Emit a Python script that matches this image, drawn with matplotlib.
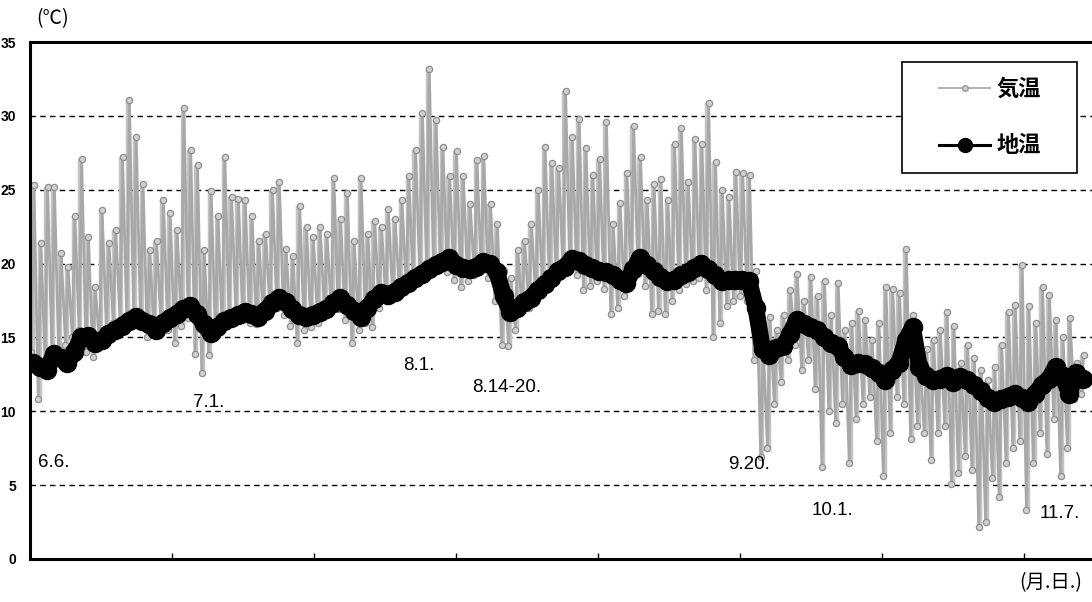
import numpy as np
import matplotlib
matplotlib.use('Agg')
import matplotlib.pyplot as plt
from matplotlib.lines import Line2D
from matplotlib.patches import Rectangle

plt.rcParams['font.family'] = ['Liberation Sans', 'Noto Sans CJK JP', 'DejaVu Sans']

# daily readings, day 0 = 6.6.  (hours on the x axis)
air_max = [25.3, 21.4, 25.2, 25.2, 20.7, 19.8, 23.2, 27.1, 21.8, 18.4,
           23.6, 21.4, 22.3, 27.2, 31.1, 28.6, 25.4, 20.9, 21.5, 24.3,
           23.4, 22.3, 30.5, 27.7, 26.7, 20.9, 24.9, 23.2, 27.2, 24.5,
           24.4, 24.3, 23.2, 21.5, 22.0, 25.0, 25.5, 21.0, 20.5, 23.9,
           22.5, 21.8, 22.5, 22.0, 25.8, 23.0, 24.8, 21.5, 25.8, 22.0,
           22.9, 22.5, 23.7, 23.0, 24.3, 25.9, 27.7, 30.2, 33.2, 29.7,
           27.9, 25.9, 27.6, 25.9, 24.0, 27.0, 27.3, 24.0, 22.7, 19.5,
           19.0, 20.9, 21.5, 22.7, 25.0, 27.9, 26.8, 26.5, 31.7, 28.6,
           29.8, 27.8, 26.0, 27.1, 29.6, 22.7, 24.1, 26.1, 29.3, 27.2,
           24.3, 25.4, 25.7, 24.3, 28.1, 29.2, 25.5, 28.4, 28.1, 30.9,
           26.9, 25.0, 24.5, 26.2, 26.1, 26.0, 19.5, 14.5, 16.4, 15.5,
           16.5, 18.2, 19.3, 17.5, 19.1, 17.8, 18.8, 16.5, 18.7, 15.5,
           16.0, 16.8, 16.2, 14.8, 16.0, 18.4, 18.3, 18.0, 21.0, 16.5,
           13.7, 14.2, 14.8, 15.5, 16.7, 15.8, 13.3, 14.5, 13.6, 12.8,
           12.1, 13.0, 14.5, 16.7, 17.2, 19.9, 17.1, 16.0, 18.4, 17.9,
           16.2, 15.0, 16.3, 13.3, 13.8]
air_min = [14.0, 10.8, 13.5, 14.2, 13.8, 14.5, 15.0, 15.5, 14.0, 13.7,
           14.5, 15.5, 16.0, 16.2, 16.0, 16.5, 16.2, 15.0, 15.2, 16.0,
           15.5, 14.6, 15.8, 16.3, 13.9, 12.6, 13.8, 15.0, 15.5, 16.2,
           16.5, 16.2, 16.0, 15.9, 16.5, 16.8, 17.0, 16.5, 15.8, 14.6,
           15.5, 15.7, 16.0, 16.5, 16.8, 16.9, 16.2, 14.6, 15.5, 16.0,
           15.7, 17.0, 17.5, 17.8, 18.0, 18.3, 18.8, 19.0, 19.3, 19.5,
           19.6, 19.4, 18.9, 18.4, 18.8, 19.2, 19.5, 19.0, 17.5, 14.5,
           14.4, 15.5, 16.8, 17.0, 17.6, 18.0, 18.6, 19.0, 19.5, 19.6,
           19.2, 18.2, 18.5, 18.8, 18.3, 16.6, 17.0, 17.8, 18.8, 19.3,
           18.5, 16.6, 16.8, 16.6, 17.5, 18.2, 18.6, 18.8, 19.0, 18.2,
           15.0, 16.0, 17.1, 17.5, 17.8, 17.5, 13.5, 6.9, 7.5, 10.5,
           12.0, 13.5, 14.5, 12.8, 13.5, 11.5, 6.2, 10.0, 9.2, 10.5,
           6.5, 9.5, 10.5, 11.0, 8.0, 5.6, 8.5, 11.0, 10.5, 8.1,
           9.0, 8.5, 6.7, 8.5, 9.0, 5.1, 5.8, 7.0, 6.0, 2.2,
           2.5, 5.5, 4.2, 6.5, 7.5, 8.0, 3.3, 6.5, 8.5, 7.1,
           9.5, 5.6, 7.5, 10.8, 11.2]
ground = [13.3, 13.0, 12.8, 13.9, 13.6, 13.3, 14.0, 15.0, 15.1, 14.6,
          14.8, 15.2, 15.5, 15.8, 16.1, 16.4, 16.1, 15.9, 15.5, 16.0,
          16.3, 16.6, 16.9, 17.1, 16.6, 15.9, 15.3, 15.7, 16.1, 16.3,
          16.5, 16.7, 16.6, 16.4, 16.8, 17.3, 17.7, 17.4, 16.9, 16.5,
          16.4, 16.5, 16.7, 16.9, 17.3, 17.7, 17.2, 16.8, 16.4, 17.0,
          17.6, 18.0, 17.9, 18.1, 18.4, 18.7, 19.0, 19.3, 19.6, 19.9,
          20.1, 20.4, 19.9, 19.7, 19.6, 19.8, 20.1, 20.0, 19.4, 17.8,
          16.7, 17.0, 17.4, 17.7, 18.2, 18.6, 19.0, 19.5, 19.8, 20.3,
          20.2, 19.9, 19.7, 19.5, 19.4, 19.2, 18.9, 18.7, 19.6, 20.4,
          19.9, 19.5, 19.1, 18.8, 18.9, 19.2, 19.4, 19.7, 20.0, 19.6,
          19.2, 18.8, 18.9, 18.9, 18.9, 18.8, 17.0, 14.2, 13.8, 14.3,
          14.4, 15.2, 16.2, 15.9, 15.7, 15.5, 15.0, 14.6, 14.4, 13.7,
          13.1, 13.3, 13.2, 12.9, 12.6, 12.1, 12.8, 13.3, 14.8, 15.7,
          13.0, 12.4, 12.1, 12.2, 12.4, 12.0, 12.3, 12.1, 11.8, 11.4,
          10.9, 10.6, 10.8, 11.0, 11.2, 10.9, 10.6, 11.2, 11.8, 12.2,
          13.0, 12.4, 11.2, 12.6, 12.2]

date_labels = ['6.6.', '7.1.', '8.1.', '8.14-20.', '9.20.', '10.1.', '11.7.']
label_x = [28, 574, 1313, 1556, 2458, 2754, 3556]   # hours
label_y = [6.5, 10.6, 13.1, 11.6, 6.4, 3.3, 3.1]

days = np.arange(len(ground))
# air: min around 5 h, max around 14 h each day
air_t = np.ravel(np.column_stack([days * 24 + 5, days * 24 + 14]))
air_v = np.ravel(np.column_stack([air_min, air_max]))
ground_t = days * 24 + 12

fig = plt.figure(figsize=(10.92, 6.02), dpi=100)
ax = fig.add_axes([30 / 1092, 43 / 602, 1070 / 1092, 517 / 602])

# daily range as a dense gray column, then the zigzag with markers
ax.vlines(days * 24 + 9.5, air_min, air_max, color='#c4c4c4', lw=3.2, zorder=2)
ax.plot(air_t, air_v, color='#a8a8a8', lw=2.0, marker='o', ms=4.5,
        mfc='#d0d0d0', mec='#8e8e8e', mew=0.9, zorder=2)
ax.plot(ground_t, ground, color='black', lw=12, marker='o', ms=13,
        solid_capstyle='round', zorder=3)

ax.set_xlim(0, 3768)
ax.set_ylim(0, 35)
ax.set_xticks(np.arange(0, 3768, 500))
ax.set_xticklabels([])
ax.set_yticks(np.arange(0, 36, 5))
ax.tick_params(axis='x', direction='in', length=4, width=1)
ax.tick_params(axis='y', length=0, pad=10, labelsize=10)
for lab in ax.get_yticklabels():
    lab.set_fontweight('bold')
for y in range(5, 35, 5):
    ax.axhline(y, color='black', lw=1, ls=(0, (4, 3)), zorder=1)
for side in ['left', 'top', 'bottom']:
    ax.spines[side].set_linewidth(2.2)
ax.spines['right'].set_visible(False)

for txt, x, y in zip(date_labels, label_x, label_y):
    ax.text(x, y, txt, fontsize=13.5, ha='left', va='center', zorder=4)

fig.text(36 / 1092, 1 - 19 / 602, '(℃)', fontsize=14, va='center',
         family=['Noto Sans CJK JP', 'DejaVu Sans'])
fig.text(1082 / 1092, 1 - 583 / 602, '(月.日.)', fontsize=14, va='center',
         ha='right', family=['Noto Sans CJK JP', 'DejaVu Sans'])

# legend box drawn by hand so its size matches
fig.patches.append(Rectangle((902 / 1092, 1 - 173 / 602), 175 / 1092, 111 / 602,
                             transform=fig.transFigure, facecolor='white',
                             edgecolor='black', lw=1.2, zorder=5))
handles = [Line2D([], [], color='#b4b4b4', lw=1.5, marker='o', ms=4,
                  mfc='#cfcfcf', mec='#9a9a9a'),
           Line2D([], [], color='black', lw=2.2, marker='o', ms=10)]
leg = fig.legend(handles, ['気温', '地温'], loc='upper left',
                 bbox_to_anchor=(939 / 1092, 1 - 78 / 602),
                 frameon=False, handlelength=2.3,
                 labelspacing=1.5, borderpad=0, handletextpad=0.3,
                 borderaxespad=0,
                 prop={'family': ['Noto Sans CJK JP'], 'weight': 'bold', 'size': 16})
leg.set_zorder(6)

fig.savefig('out.png', dpi=100)
